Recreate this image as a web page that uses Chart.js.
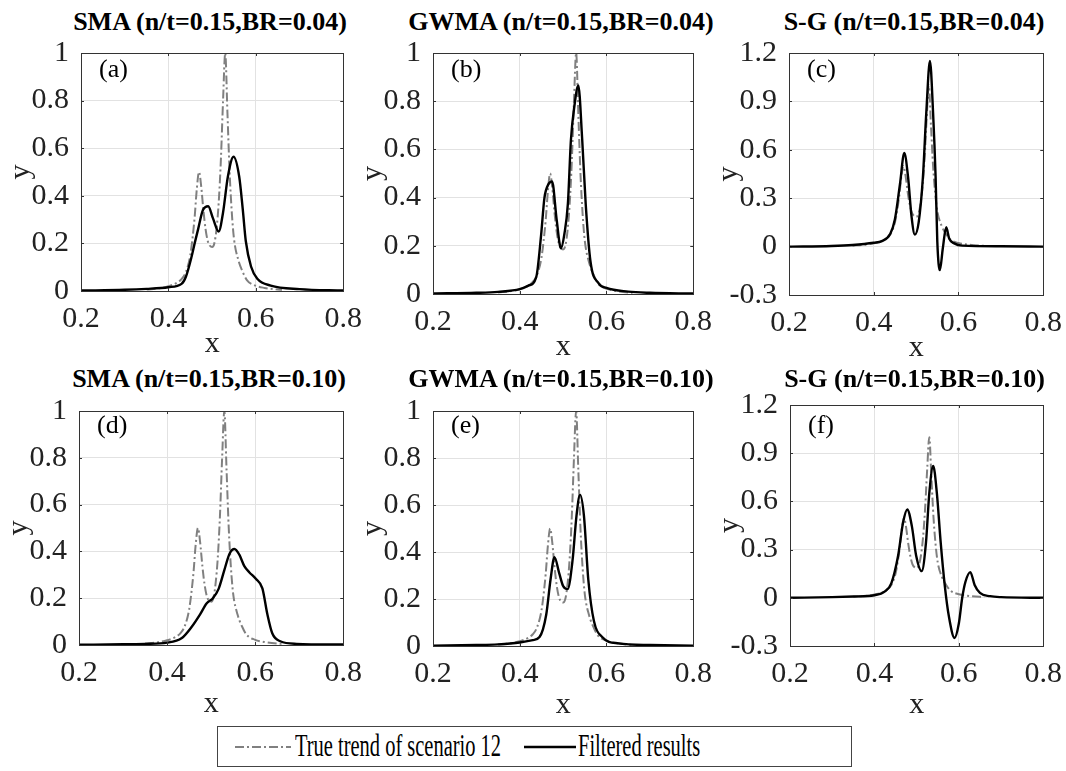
<!DOCTYPE html>
<html>
<head>
<meta charset="utf-8">
<script src="https://cdn.jsdelivr.net/npm/chart.js@4.4.0/dist/chart.umd.min.js"></script>
<style>
  body { margin: 0; background: #fff; width: 1066px; height: 771px; position: relative; overflow: hidden;
         font-family: "Liberation Serif", "DejaVu Serif", serif; color: #000; }
  canvas { position: absolute; }
  .title { position: absolute; font-weight: bold; font-size: 26px; line-height: 30px; white-space: nowrap;
           transform: translateX(-50%); }
  .tag { position: absolute; font-size: 26px; line-height: 30px; }
  #legend { position: absolute; left: 217px; top: 726px; width: 635px; height: 41px; border: 1px solid #444;
            box-sizing: border-box; }
  #legend svg { position: absolute; }
  #legend span { position: absolute; top: 0px; font-size: 31px; line-height: 38px; white-space: nowrap;
                 transform: scaleX(0.66); transform-origin: left center; }
</style>
</head>
<body>
<div id="legend">
  <svg style="left:17px;top:18px" width="56" height="4"><line x1="0" y1="2" x2="56" y2="2" stroke="#808080" stroke-width="2" stroke-dasharray="9 3 2 3"/></svg>
  <span style="left:77px">True trend of scenario 12</span>
  <svg style="left:306px;top:18px" width="52" height="4"><line x1="0" y1="2" x2="52" y2="2" stroke="#000" stroke-width="2.4"/></svg>
  <span style="left:360px">Filtered results</span>
</div>
<script>
// tick values
const xTicks = [0.2, 0.4, 0.6, 0.8];
const yTicksMA = [0, 0.2, 0.4, 0.6, 0.8, 1];
const yTicksSG = [-0.3, 0, 0.3, 0.6, 0.9, 1.2];

const titles = ['SMA (n/t=0.15,BR=0.04)', 'GWMA (n/t=0.15,BR=0.04)', 'S-G (n/t=0.15,BR=0.04)',
                'SMA (n/t=0.15,BR=0.10)', 'GWMA (n/t=0.15,BR=0.10)', 'S-G (n/t=0.15,BR=0.10)'];
const tags = ['(a)', '(b)', '(c)', '(d)', '(e)', '(f)'];

// true trend of scenario 12 (same in every panel)
const trueX = [0.35, 0.38, 0.40, 0.42, 0.43, 0.44, 0.45, 0.455, 0.46, 0.465, 0.47, 0.475, 0.48, 0.485, 0.49,
               0.495, 0.50, 0.505, 0.51, 0.515, 0.52, 0.525, 0.53, 0.535, 0.54, 0.545, 0.55, 0.56, 0.57, 0.58,
               0.60, 0.62, 0.65, 0.66];
const trueY = [0.006, 0.012, 0.02, 0.035, 0.05, 0.08, 0.15, 0.22, 0.31, 0.43, 0.50, 0.44, 0.34, 0.26, 0.21,
               0.19, 0.185, 0.20, 0.26, 0.37, 0.55, 0.80, 1.00, 0.75, 0.50, 0.33, 0.22, 0.13, 0.08, 0.045,
               0.022, 0.013, 0.006, 0.005];

// filtered results, BR=0.04
const smaX04 = [0.2, 0.3, 0.35, 0.4, 0.43, 0.44, 0.453, 0.46, 0.468, 0.479, 0.491, 0.502, 0.515, 0.525, 0.536,
                0.549, 0.562, 0.57, 0.577, 0.589, 0.604, 0.634, 0.7, 0.8];
const smaY04 = [0.002, 0.005, 0.009, 0.016, 0.03, 0.06, 0.144, 0.2, 0.26, 0.34, 0.356, 0.305, 0.25, 0.33, 0.48,
                0.564, 0.48, 0.345, 0.21, 0.103, 0.05, 0.023, 0.008, 0.002];
const gwmaX04 = [0.2, 0.3, 0.35, 0.4, 0.42, 0.438, 0.449, 0.457, 0.466, 0.4745, 0.485, 0.495, 0.503, 0.511, 0.518,
                 0.526, 0.535, 0.544, 0.552, 0.563, 0.582, 0.6, 0.65, 0.7, 0.8];
const gwmaY04 = [0.002, 0.005, 0.009, 0.02, 0.035, 0.07, 0.24, 0.40, 0.455, 0.467, 0.31, 0.19, 0.25, 0.375, 0.64,
                 0.78, 0.865, 0.64, 0.375, 0.136, 0.044, 0.025, 0.01, 0.005, 0.002];
const sgX04 = [0.2, 0.3, 0.35, 0.4, 0.419, 0.439, 0.45, 0.462, 0.472, 0.481, 0.489, 0.497, 0.506, 0.516, 0.524,
               0.5326, 0.54, 0.546, 0.55, 0.556, 0.563, 0.571, 0.578, 0.59, 0.609, 0.7, 0.8];
const sgY04 = [0.0, 0.004, 0.01, 0.024, 0.034, 0.08, 0.17, 0.39, 0.58, 0.43, 0.19, 0.074, 0.15, 0.43, 0.83,
               1.15, 0.83, 0.43, 0.03, -0.146, -0.01, 0.12, 0.05, 0.02, 0.006, 0.002, 0.0];

// filtered results, BR=0.10
const smaX10 = [0.2, 0.3, 0.35, 0.4, 0.4336, 0.456, 0.4746, 0.4896, 0.504, 0.517, 0.53, 0.5418, 0.553, 0.564,
                0.5754, 0.587, 0.6015, 0.6164, 0.6276, 0.6388, 0.657, 0.694, 0.8];
const smaY10 = [0.001, 0.003, 0.005, 0.01, 0.03, 0.078, 0.13, 0.177, 0.20, 0.24, 0.32, 0.39, 0.41, 0.386,
                0.337, 0.31, 0.283, 0.242, 0.132, 0.05, 0.016, 0.005, 0.002];
const gwmaX10 = [0.2, 0.3, 0.35, 0.4, 0.43, 0.4456, 0.461, 0.471, 0.48, 0.4909, 0.5, 0.5103, 0.5217, 0.5308, 0.539,
                 0.548, 0.558, 0.571, 0.59, 0.628, 0.7, 0.8];
const gwmaY10 = [0.001, 0.004, 0.007, 0.015, 0.025, 0.038, 0.133, 0.283, 0.378, 0.31, 0.255, 0.242, 0.364, 0.554,
                 0.643, 0.554, 0.283, 0.106, 0.038, 0.011, 0.004, 0.001];
const sgX10 = [0.2, 0.3, 0.35, 0.4, 0.425, 0.44, 0.456, 0.4677, 0.4778, 0.4887, 0.4988, 0.512, 0.5222, 0.530,
               0.5393, 0.548, 0.557, 0.5665, 0.5767, 0.5899, 0.6, 0.608, 0.6157, 0.6272, 0.6374, 0.65, 0.674, 0.7, 0.8];
const sgY10 = [0.0, 0.004, 0.008, 0.016, 0.04, 0.09, 0.26, 0.466, 0.55, 0.446, 0.264, 0.166, 0.345, 0.65,
               0.82, 0.65, 0.345, 0.081, -0.12, -0.25, -0.16, 0.0, 0.10, 0.16, 0.08, 0.03, 0.01, 0.004, 0.0];

// plot-area boxes on the page
const panels = [
  { left: 81, top: 43, w: 266, h: 248, row: 0 },
  { left: 433, top: 43, w: 264, h: 251, row: 0 },
  { left: 789, top: 43, w: 258, h: 252, row: 0 },
  { left: 79, top: 401, w: 268, h: 244, row: 1 },
  { left: 433, top: 401, w: 264, h: 245, row: 1 },
  { left: 790, top: 395, w: 257, h: 251, row: 1 }
];

const axisFont = { family: 'Liberation Serif', size: 30 };
const Y_AXIS_W = 78;
const PAD_TOP = 20, PAD_RIGHT = 25;

// MATLAB style box with inward tick marks
const boxPlugin = {
  id: 'box',
  afterDatasetsDraw(chart) {
    const { ctx, chartArea: a, scales } = chart;
    ctx.save();
    ctx.strokeStyle = '#333';
    ctx.lineWidth = 1;
    ctx.beginPath();
    scales.x.ticks.forEach(t => {
      const px = Math.round(scales.x.getPixelForValue(t.value)) + 0.5;
      ctx.moveTo(px, a.bottom); ctx.lineTo(px, a.bottom - 3);
      ctx.moveTo(px, a.top); ctx.lineTo(px, a.top + 3);
    });
    scales.y.ticks.forEach(t => {
      const py = Math.round(scales.y.getPixelForValue(t.value)) + 0.5;
      ctx.moveTo(a.left, py); ctx.lineTo(a.left + 3, py);
      ctx.moveTo(a.right, py); ctx.lineTo(a.right - 3, py);
    });
    ctx.stroke();
    ctx.strokeRect(Math.round(a.left) + 0.5, Math.round(a.top) + 0.5, Math.round(a.width), Math.round(a.height));
    ctx.restore();
  }
};

function pts(xs, ys) {
  return xs.map((x, i) => ({ x: x, y: ys[i] }));
}

function drawPanel(i, fx, fy, yTicks) {
  const p = panels[i];
  const xAxisH = p.row === 0 ? 71 : 77;

  const t = document.createElement('div');
  t.className = 'title';
  t.textContent = titles[i];
  t.style.left = (p.left + p.w / 2 - 4) + 'px';
  t.style.top = (p.row === 0 ? 7 : 364) + 'px';
  document.body.appendChild(t);

  const cv = document.createElement('canvas');
  cv.width = p.w + Y_AXIS_W + PAD_RIGHT;
  cv.height = p.h + PAD_TOP + xAxisH;
  cv.style.left = (p.left - Y_AXIS_W) + 'px';
  cv.style.top = (p.top - PAD_TOP) + 'px';
  document.body.appendChild(cv);

  const g = document.createElement('div');
  g.className = 'tag';
  g.textContent = tags[i];
  g.style.left = (p.left + 18) + 'px';
  g.style.top = (p.row === 0 ? 54 : 410) + 'px';
  document.body.appendChild(g);

  new Chart(cv, {
    type: 'line',
    data: {
      datasets: [
        { label: 'Filtered results', data: pts(fx, fy), borderColor: '#000', borderWidth: 2.4,
          pointRadius: 0, cubicInterpolationMode: 'monotone' },
        { label: 'True trend of scenario 12', data: pts(trueX, trueY), borderColor: '#808080', borderWidth: 2,
          borderDash: [9, 3, 2, 3], pointRadius: 0, cubicInterpolationMode: 'monotone' }
      ]
    },
    options: {
      responsive: false,
      animation: false,
      devicePixelRatio: 1,
      layout: { padding: { top: PAD_TOP, right: PAD_RIGHT, left: 0, bottom: 0 } },
      plugins: { legend: { display: false }, tooltip: { enabled: false } },
      scales: {
        x: {
          type: 'linear', min: 0.2, max: 0.8,
          afterBuildTicks: s => { s.ticks = xTicks.map(v => ({ value: v })); },
          afterFit: s => { s.height = xAxisH; },
          grid: { color: '#e2e2e2', drawTicks: false },
          border: { display: false },
          ticks: { padding: 10, color: '#222', font: axisFont, maxRotation: 0, callback: v => String(v) },
          title: { display: true, text: 'x', padding: 0, color: '#222', font: axisFont }
        },
        y: {
          type: 'linear', min: yTicks[0], max: yTicks[yTicks.length - 1],
          afterBuildTicks: s => { s.ticks = yTicks.map(v => ({ value: v })); },
          afterFit: s => { s.width = Y_AXIS_W; },
          grid: { color: '#e2e2e2', drawTicks: false },
          border: { display: false },
          ticks: { padding: 12, color: '#222', font: axisFont, callback: v => String(v) },
          title: { display: true, text: 'y', padding: 0, color: '#222', font: axisFont }
        }
      }
    },
    plugins: [boxPlugin]
  });
}

drawPanel(0, smaX04, smaY04, yTicksMA);
drawPanel(1, gwmaX04, gwmaY04, yTicksMA);
drawPanel(2, sgX04, sgY04, yTicksSG);
drawPanel(3, smaX10, smaY10, yTicksMA);
drawPanel(4, gwmaX10, gwmaY10, yTicksMA);
drawPanel(5, sgX10, sgY10, yTicksSG);
</script>
</body>
</html>
